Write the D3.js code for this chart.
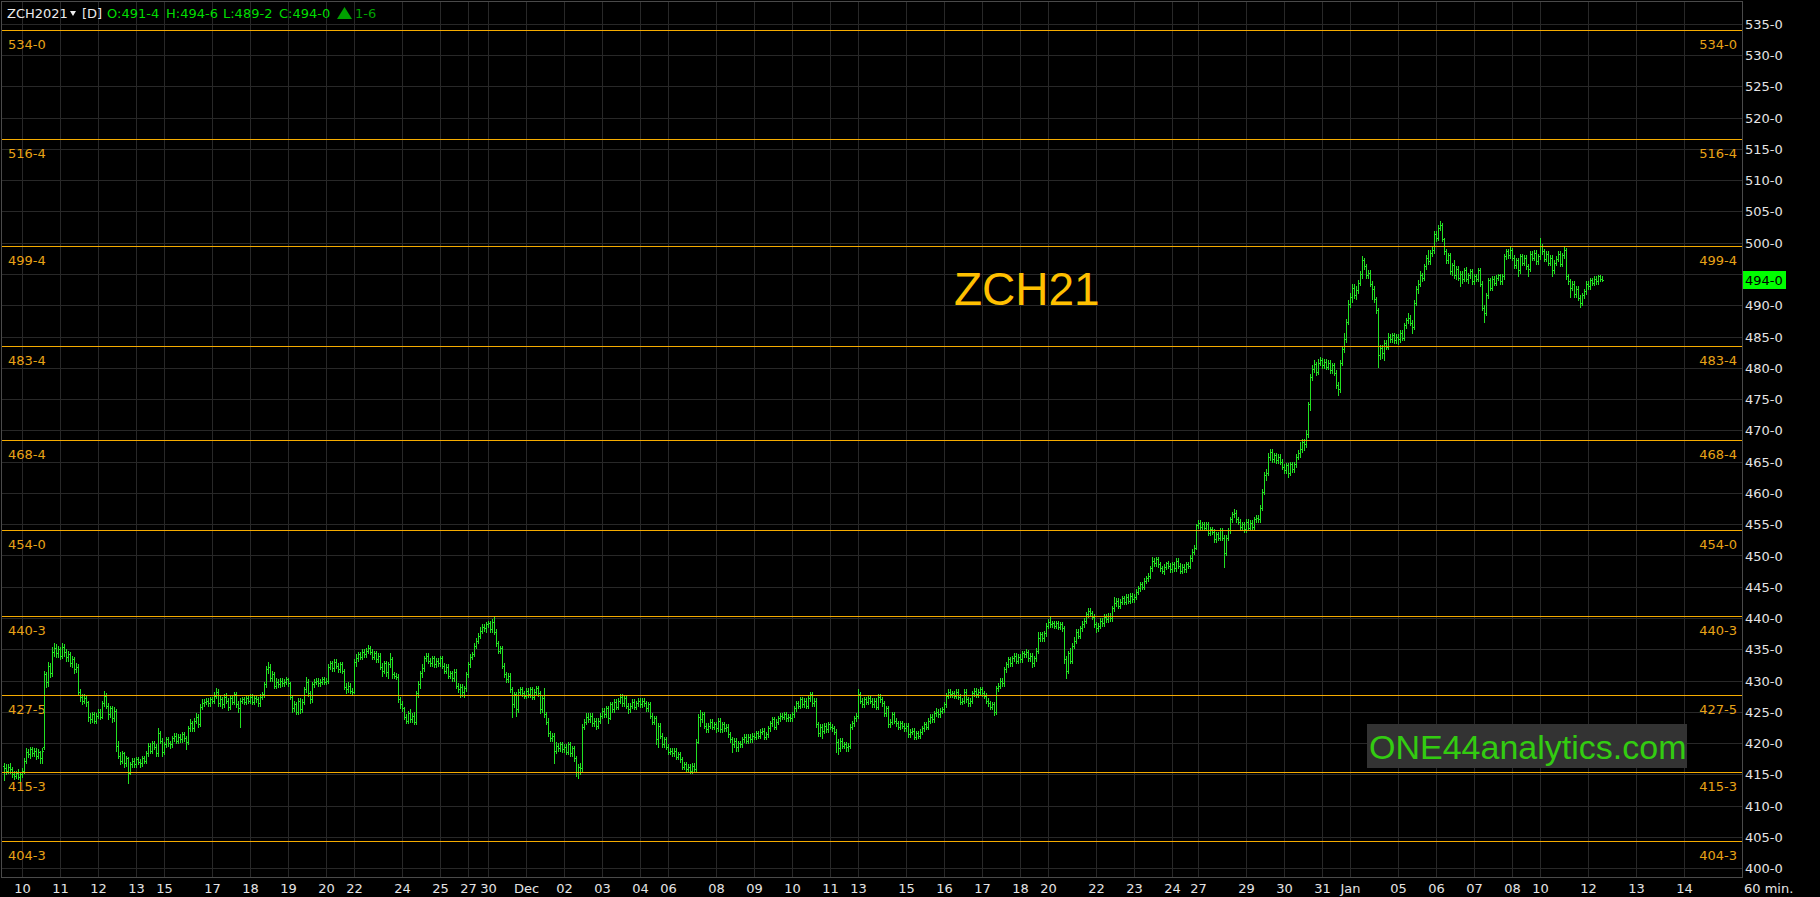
<!DOCTYPE html>
<html><head><meta charset="utf-8">
<script src="https://cdn.jsdelivr.net/npm/d3@7"></script>
<style>html,body{margin:0;padding:0;background:#000;overflow:hidden}</style>
</head><body><svg id="c" width="1820" height="897"></svg>
<script>
// ---------------- DATA ----------------
const firstIndex = -9; // bar index of first bar (index 0 = Nov 10 00:00)
const opens = [
416.4,416.0,415.6,416.2,415.8,415.0,414.8,415.2,414.6,415.0,
415.6,417.2,418.6,418.2,419.0,418.4,418.8,418.0,418.6,417.6,
419.4,431.0,429.8,432.4,431.2,434.6,435.2,434.4,435.0,434.0,
435.4,434.6,433.8,434.2,432.8,433.4,431.8,432.2,428.2,427.4,
426.8,427.2,426.6,424.2,423.8,424.6,423.6,424.4,425.0,424.2,
426.4,427.6,426.0,424.6,425.6,424.0,425.2,419.6,418.0,417.2,
418.4,416.8,417.6,415.2,416.6,417.2,416.6,417.4,417.0,416.8,
417.6,417.2,418.4,419.6,418.8,420.0,419.4,418.4,421.6,420.4,
418.6,419.8,420.6,420.0,419.8,420.8,421.2,420.4,421.0,420.6,
421.4,420.8,420.2,422.4,423.2,422.4,423.6,424.2,423.0,425.8,
426.4,426.6,426.8,426.4,427.0,426.8,427.6,428.2,426.4,427.0,
426.2,427.4,426.8,425.8,427.2,426.6,427.8,426.2,425.6,426.8,
427.0,426.6,427.2,426.8,427.4,426.6,427.2,427.0,426.4,427.4,
427.8,429.4,431.8,432.2,430.4,431.0,429.2,429.8,429.4,430.0,
429.6,429.8,430.2,429.6,427.4,425.6,426.2,425.0,426.8,425.4,
426.6,428.6,429.8,428.0,427.0,429.4,429.8,430.0,429.6,429.8,
430.2,429.8,430.0,432.2,432.8,432.0,433.0,432.4,431.8,432.6,
431.6,429.0,428.6,429.2,428.4,428.2,433.0,433.6,434.2,433.8,
434.6,434.2,434.8,435.2,434.6,433.8,434.4,433.4,434.0,432.2,
431.6,432.8,431.4,432.6,433.4,431.0,430.8,430.6,427.0,426.2,
425.6,424.2,423.6,424.8,423.8,424.4,423.4,428.0,429.4,431.2,
432.0,433.6,434.0,433.2,432.8,433.6,432.6,433.2,432.8,433.6,
432.4,431.6,432.2,430.8,431.2,430.4,431.4,429.2,428.6,429.0,
428.2,428.8,431.0,432.6,433.8,434.2,435.6,436.4,437.2,438.0,
438.6,438.4,439.0,439.2,438.2,439.4,437.8,436.0,434.8,435.2,
432.4,431.0,430.2,430.8,428.6,426.2,427.8,425.4,428.2,428.6,
428.0,427.6,428.4,427.8,428.6,427.4,428.2,428.8,428.0,425.4,
427.2,424.6,423.4,421.6,420.8,421.2,418.8,419.6,419.2,419.8,
419.0,419.4,418.6,419.8,418.4,419.2,417.6,415.4,416.2,416.0,
422.6,423.4,424.2,423.8,424.4,423.2,423.6,422.8,423.6,424.4,
425.2,424.6,425.6,424.0,426.2,425.4,426.6,425.8,426.8,427.4,
426.4,427.2,426.0,425.4,426.0,426.6,425.8,426.4,426.8,426.2,
426.8,426.4,425.6,426.2,424.4,423.4,424.0,420.6,422.8,421.2,
419.8,420.6,419.4,418.6,418.8,418.4,418.8,417.8,418.2,417.4,
416.2,416.6,415.8,416.2,415.6,416.4,415.8,420.2,424.2,423.8,
424.6,422.8,422.2,422.8,423.4,422.6,423.0,422.4,423.6,422.2,
423.0,422.4,422.6,421.4,420.6,419.8,420.4,419.4,420.0,419.8,
420.6,421.0,420.4,421.0,420.6,421.2,421.0,421.6,421.2,421.8,
422.0,421.0,421.4,422.4,423.2,423.8,422.6,423.4,424.0,424.4,
424.2,424.6,424.0,424.2,424.0,424.6,425.6,426.4,426.0,427.0,
426.2,426.8,426.0,427.2,427.8,426.4,426.8,423.0,421.6,422.6,
422.0,422.8,422.2,423.0,422.6,422.4,421.8,420.2,419.2,420.4,
419.6,419.8,419.4,419.6,422.6,423.2,424.0,424.4,427.8,426.8,
426.2,427.0,426.6,427.2,426.8,426.2,426.8,425.8,427.4,427.0,
426.4,424.8,425.6,423.0,423.4,424.6,423.6,423.2,422.6,423.2,
422.8,422.4,422.8,421.4,421.8,422.0,421.0,421.6,421.2,421.8,
422.4,423.0,422.6,423.6,424.2,423.8,424.8,425.0,424.6,425.2,
425.4,426.2,427.6,428.2,427.8,428.0,427.6,428.2,427.4,426.6,
426.8,428.2,427.0,426.4,426.8,428.0,428.4,427.8,428.2,428.6,
428.0,427.6,426.8,426.4,425.8,426.2,425.0,428.8,429.2,430.0,
429.6,431.8,432.6,433.4,432.8,433.6,434.0,433.2,433.8,433.4,
434.4,434.2,434.6,433.6,434.0,432.8,433.6,434.8,436.8,437.4,
436.8,437.6,438.8,439.4,439.0,439.2,438.8,439.2,438.6,439.0,
438.4,433.4,431.6,434.4,433.2,435.6,436.4,437.8,437.2,438.4,
439.0,439.6,440.6,441.2,440.8,440.2,439.0,438.4,438.8,439.6,
439.2,440.2,439.8,440.4,440.0,441.6,442.4,442.8,442.0,442.6,
443.2,442.6,443.4,442.8,443.6,443.0,443.4,444.2,444.8,445.4,
445.0,446.0,446.4,446.8,448.0,449.2,448.8,449.4,448.6,448.0,
447.6,448.2,448.8,448.4,447.8,448.6,448.0,449.2,448.4,447.6,
448.2,447.8,448.6,448.4,449.6,450.6,451.2,454.8,455.2,454.6,
455.0,454.4,455.0,453.6,454.2,453.8,452.6,453.4,452.8,454.0,
452.8,450.4,452.8,454.0,455.8,456.6,456.8,455.8,455.4,454.6,
455.0,454.2,455.4,454.4,455.2,454.6,455.8,456.0,455.8,457.6,
460.2,462.8,463.2,465.8,466.6,465.4,466.0,465.2,465.8,465.0,
464.2,463.6,464.4,463.2,464.6,463.8,464.6,465.8,466.4,467.0,
468.2,467.8,469.4,474.2,478.6,479.8,480.6,479.4,480.8,481.2,
480.4,481.0,480.2,480.8,479.6,480.4,479.2,477.2,476.6,480.8,
483.0,484.6,487.4,490.2,491.4,492.8,491.6,492.4,493.6,495.0,
497.2,496.2,494.8,495.2,493.4,492.6,491.0,489.2,482.0,483.2,
482.4,484.0,483.4,485.0,484.6,485.2,484.4,485.0,484.6,485.6,
484.8,486.8,487.6,488.0,487.2,486.6,490.4,492.6,493.4,494.8,
494.4,496.2,497.6,497.0,498.4,498.8,501.4,500.8,502.4,502.8,
500.6,498.6,497.2,498.0,495.4,496.4,494.8,495.8,494.4,495.0,
494.2,495.6,494.2,494.8,495.4,493.8,494.6,494.2,495.6,493.4,
489.6,488.8,491.6,494.0,492.8,494.2,493.6,494.4,494.8,493.8,
494.6,497.8,498.6,498.0,498.8,497.6,496.4,497.2,495.6,497.8,
496.8,497.6,496.2,495.8,498.2,497.6,498.4,497.0,497.8,499.4,
498.6,497.4,498.2,496.8,497.6,495.6,496.8,497.4,498.2,496.6,
498.0,498.8,494.6,493.8,492.8,493.4,491.8,492.6,491.2,490.4,
491.6,492.2,493.4,493.0,494.0,493.6,494.2,493.8,494.6,494.2];
const highs = [
416.8,416.6,416.6,416.8,416.2,415.6,415.6,415.8,415.4,416.0,
417.6,419.2,419.0,419.4,419.4,419.2,419.2,419.0,418.8,419.2,
431.6,431.4,433.0,432.8,435.4,436.0,435.8,435.6,435.4,436.0,
435.8,435.0,434.8,434.6,434.0,433.8,432.8,432.6,428.6,427.8,
427.8,427.6,426.8,424.8,425.0,425.0,424.8,425.4,425.4,426.8,
428.4,428.0,426.4,426.0,426.0,425.8,425.4,420.4,418.6,418.8,
418.6,418.0,417.8,417.0,417.6,417.6,417.8,417.8,417.4,418.0,
418.0,418.8,420.0,420.0,420.4,420.4,419.8,422.4,422.0,420.8,
420.2,421.0,421.0,420.4,421.2,421.6,421.6,421.4,421.4,421.8,
421.8,421.2,422.8,423.8,423.6,424.0,424.8,424.6,426.2,427.0,
427.0,427.2,427.2,427.4,427.4,428.2,428.8,428.6,427.6,427.4,
427.8,428.0,427.2,427.6,427.6,428.2,428.2,426.8,427.2,427.4,
427.4,427.6,427.6,427.8,427.8,427.6,427.6,427.4,427.8,428.2,
429.8,432.4,433.0,432.6,431.6,431.4,430.4,430.2,430.4,430.4,
430.2,430.6,430.4,429.8,427.6,426.8,426.6,427.2,427.2,427.0,
429.0,430.6,430.2,428.4,429.8,430.2,430.4,430.4,430.2,430.6,
430.6,430.4,432.6,433.2,433.2,433.4,433.4,432.8,433.0,433.0,
431.8,429.6,429.8,429.6,428.8,433.4,434.2,434.6,434.6,435.0,
435.0,435.2,435.7,435.6,435.0,434.8,434.8,434.4,434.4,432.8,
433.2,433.2,433.0,434.4,433.8,431.4,431.2,431.0,427.4,426.8,
425.8,424.6,425.2,425.4,424.8,425.0,428.4,430.0,431.6,432.6,
434.0,434.4,434.4,433.6,434.0,434.0,433.6,433.6,434.0,434.0,
432.8,432.6,432.6,431.6,431.6,431.8,431.8,429.6,429.4,429.4,
429.2,431.4,433.0,434.2,434.6,436.0,436.8,437.6,438.6,439.0,
439.0,439.4,439.6,439.6,439.8,440.1,438.2,436.4,435.6,435.6,
432.8,431.4,431.2,431.2,429.0,428.2,428.2,428.6,429.0,429.0,
428.4,428.8,428.8,429.0,429.0,428.6,429.2,429.2,428.4,427.6,
428.8,425.0,424.0,422.0,421.6,421.6,420.2,420.0,420.2,420.2,
419.8,419.8,420.2,420.2,419.6,419.6,418.0,416.6,416.8,423.0,
423.8,424.8,424.8,424.8,424.8,424.0,424.0,424.0,424.8,425.6,
425.6,426.0,426.0,426.6,426.6,427.0,427.0,427.2,427.8,427.8,
427.6,427.6,426.4,426.4,427.0,427.0,426.8,427.2,427.2,427.2,
427.2,426.8,426.6,426.6,424.8,424.4,424.4,423.2,423.2,421.6,
421.0,421.0,419.8,419.2,419.2,419.2,419.2,418.6,418.6,417.8,
417.0,417.0,416.6,416.6,416.8,416.8,420.6,424.6,425.3,425.0,
425.0,423.2,423.2,423.8,423.8,423.4,423.4,424.0,424.0,423.4,
423.4,423.0,423.0,421.8,421.0,420.8,420.8,420.4,420.4,421.0,
421.4,421.4,421.4,421.4,421.6,421.6,422.0,422.0,422.2,422.4,
422.4,421.8,422.8,423.6,424.2,424.2,423.8,424.4,424.8,424.8,
425.0,425.0,424.6,424.6,425.0,426.0,426.8,426.8,427.4,427.4,
427.2,427.2,427.6,428.2,428.2,427.2,427.2,423.4,423.0,423.0,
423.2,423.2,423.4,423.4,423.0,422.8,422.2,420.6,420.8,420.8,
420.2,420.2,420.0,423.0,423.6,424.4,424.8,428.6,428.2,427.2,
427.4,427.4,427.6,427.6,427.2,427.2,427.2,427.8,427.8,427.4,
426.8,426.0,426.0,423.8,425.0,425.0,424.0,423.6,423.6,423.6,
423.2,423.2,423.2,422.2,422.4,422.4,422.0,422.0,422.2,422.8,
423.4,423.4,424.0,424.6,424.6,425.2,425.6,425.4,425.6,425.8,
426.6,428.0,428.6,428.6,428.4,428.4,428.6,428.6,427.8,427.2,
428.6,428.6,427.4,427.2,428.4,428.8,428.8,428.6,429.0,429.0,
428.4,428.0,427.2,426.8,426.6,426.6,429.2,429.6,430.4,430.4,
432.2,433.0,433.8,433.8,434.0,434.4,434.4,434.2,434.2,434.8,
434.8,435.0,434.9,434.4,434.4,434.0,435.2,437.8,437.8,437.8,
438.0,439.2,439.8,440.2,439.6,439.6,439.6,439.6,439.4,439.4,
438.8,434.0,434.8,435.2,436.0,437.0,438.2,438.2,438.8,439.6,
440.0,441.0,441.6,441.6,441.2,440.6,439.4,439.2,440.0,440.0,
440.6,440.6,440.8,440.8,442.0,443.4,443.2,443.2,443.0,443.6,
443.6,443.8,443.8,444.0,444.0,443.8,444.6,445.2,445.8,445.8,
446.4,446.8,447.2,448.4,449.8,449.6,449.8,449.8,449.0,448.4,
448.6,449.0,449.2,448.8,449.0,449.0,449.6,449.6,448.8,448.6,
448.6,449.0,449.0,450.0,451.0,451.7,455.1,455.6,455.7,455.4,
455.4,455.4,455.4,454.6,454.6,454.2,453.8,453.8,454.4,454.4,
453.2,453.2,454.4,456.2,457.0,457.5,457.2,456.2,455.8,455.4,
455.4,455.8,455.8,455.6,455.6,456.2,456.5,456.4,458.0,460.6,
463.4,463.9,466.4,467.1,467.0,466.4,466.4,466.3,466.2,465.4,
464.6,464.8,464.8,465.0,465.0,465.0,466.2,466.8,468.2,468.6,
468.6,470.0,474.6,479.0,480.4,481.2,481.0,481.4,481.7,481.6,
481.4,481.4,481.2,481.2,480.8,480.8,479.6,477.8,481.2,483.4,
485.5,487.8,490.8,492.0,493.4,493.4,493.0,494.0,495.4,497.8,
497.6,496.6,495.6,495.6,493.8,493.0,491.4,489.6,483.6,483.6,
484.4,484.4,485.5,485.4,485.6,485.6,485.4,485.4,486.0,486.0,
487.2,488.0,488.7,488.4,487.6,490.8,493.0,494.0,495.4,495.2,
496.6,498.0,498.8,498.8,499.4,501.8,501.8,502.8,503.5,503.2,
500.8,499.0,498.4,498.4,496.8,497.2,496.2,496.2,495.4,495.4,
496.0,496.1,495.2,495.8,495.8,495.0,495.0,496.0,496.0,493.8,
490.0,492.0,494.4,494.4,494.6,494.6,494.8,495.0,495.0,495.0,
498.2,499.0,499.0,499.4,499.2,498.0,497.6,497.6,498.2,498.2,
498.0,498.0,496.6,498.6,498.6,498.8,498.8,498.2,500.7,499.8,
499.0,498.6,498.6,498.0,498.0,497.2,497.8,498.6,498.6,498.4,
499.4,499.2,495.0,494.2,493.8,493.8,493.0,493.0,491.6,492.0,
492.6,493.8,493.8,494.4,494.4,494.6,494.6,494.9,494.9,494.6];
const lows = [
414.1,415.0,415.2,415.2,414.6,414.2,414.4,414.2,414.0,414.6,
415.2,416.8,417.8,417.6,418.0,418.0,417.4,417.6,416.8,416.8,
419.0,429.0,429.2,430.6,430.8,434.0,433.8,433.8,433.4,433.6,
434.0,433.2,433.2,432.4,432.2,431.2,431.4,427.8,426.8,426.2,
426.4,426.0,423.6,423.2,423.4,423.2,423.2,424.0,423.8,424.0,
426.0,425.6,423.8,424.2,423.4,423.6,418.8,417.6,416.6,416.8,
416.2,416.4,413.6,415.0,416.2,416.2,416.2,416.6,416.2,416.4,
416.8,416.8,418.0,418.4,418.4,419.0,418.0,418.0,420.0,418.0,
418.2,419.4,419.6,419.2,419.4,420.4,420.0,420.0,420.2,420.2,
420.4,419.0,419.8,422.0,422.0,422.0,423.2,422.6,422.8,425.4,
426.0,426.2,426.0,426.0,426.4,426.4,427.2,426.0,426.0,425.6,
425.8,426.4,425.3,425.4,426.2,426.2,425.8,425.0,422.6,426.4,
426.2,426.2,426.4,426.4,426.2,426.2,426.6,426.0,426.0,427.0,
427.4,429.0,431.2,430.0,430.0,428.8,428.8,429.0,429.0,429.2,
429.2,429.4,429.2,427.0,425.0,425.2,424.6,424.6,424.8,425.0,
426.2,428.2,427.6,426.4,426.6,429.0,429.4,429.2,429.2,429.4,
429.4,429.4,429.6,431.8,431.6,431.6,432.0,431.4,431.4,431.2,
428.6,428.0,428.2,428.0,427.8,428.0,432.4,433.2,433.4,433.4,
433.8,433.8,434.4,434.2,433.4,433.4,433.0,433.0,431.8,430.8,
431.2,430.8,430.4,432.2,430.4,430.4,430.2,426.6,425.6,425.2,
423.8,423.2,423.2,423.4,423.4,423.0,423.0,427.4,428.8,430.6,
431.6,433.2,432.8,432.4,432.4,432.2,432.2,432.4,432.4,432.0,
431.2,431.2,430.4,430.4,430.0,430.0,428.8,428.2,427.4,427.6,
427.4,428.4,430.6,432.2,433.4,434.0,435.2,436.0,436.8,437.6,
438.0,437.8,438.6,437.8,437.8,437.4,435.6,434.4,434.4,432.0,
430.6,429.8,429.8,428.2,424.2,425.8,424.4,425.0,427.8,427.6,
427.2,427.2,427.4,427.4,427.0,427.0,427.8,427.6,424.8,425.0,
424.2,423.0,421.2,420.4,420.4,416.8,418.4,418.8,418.8,418.6,
418.6,418.2,418.2,418.0,418.0,417.2,414.8,414.5,415.0,415.6,
422.2,423.0,423.4,423.4,422.8,422.8,422.2,422.4,423.2,424.0,
424.2,424.2,423.2,423.8,425.0,425.0,425.4,425.4,426.4,426.0,
426.0,425.6,424.8,425.0,425.6,425.4,425.4,426.0,425.8,425.8,
426.0,425.2,425.2,424.0,423.0,423.0,419.8,419.4,420.8,419.4,
419.4,419.0,418.2,418.2,418.0,418.0,417.4,417.4,417.0,415.8,
415.8,415.4,415.4,415.2,415.2,415.4,415.4,420.0,422.8,423.4,
422.4,421.8,421.8,422.4,422.2,422.2,421.8,422.0,421.8,421.8,
422.0,422.0,421.0,420.2,418.6,419.4,418.8,418.8,419.4,419.4,
420.2,420.0,420.0,420.2,420.2,420.6,420.6,420.8,420.8,421.4,
420.6,420.6,421.0,422.0,422.8,422.2,422.2,423.0,423.6,423.8,
423.8,423.6,423.6,423.6,423.6,424.2,425.2,425.6,425.6,425.8,
425.8,425.6,425.6,426.8,426.0,426.0,422.6,421.2,421.2,420.8,
421.6,421.8,421.8,422.2,422.0,421.4,418.6,418.2,418.8,419.2,
419.2,418.8,418.8,419.2,422.2,422.8,423.6,424.0,426.4,425.8,
425.8,426.2,426.2,426.4,425.8,425.8,425.4,425.4,426.6,426.0,
424.4,424.4,422.6,422.6,423.0,423.2,422.8,422.2,422.2,422.4,
422.0,422.0,421.0,421.0,421.4,420.6,420.6,420.8,420.8,421.4,
422.0,422.2,422.2,423.2,423.4,423.4,424.4,424.2,424.2,424.8,
425.0,425.8,427.2,427.4,427.4,427.2,427.2,427.0,426.2,426.2,
426.4,426.6,426.0,426.0,426.4,427.6,427.4,427.4,427.8,427.6,
427.2,426.4,426.0,425.4,425.4,424.5,424.6,428.4,428.8,429.2,
429.2,431.4,432.2,432.4,432.4,433.2,432.8,432.8,433.0,433.0,
433.8,433.8,433.2,433.2,432.2,432.4,433.2,434.4,436.4,436.4,
436.4,437.2,438.4,438.6,438.6,438.4,438.4,438.2,438.2,438.0,
432.8,430.4,431.2,432.8,432.8,435.2,436.0,436.8,436.8,438.0,
438.6,439.2,440.2,440.4,439.8,438.6,437.8,438.0,438.4,438.8,
438.8,439.4,439.4,439.6,439.6,441.2,442.0,441.6,441.6,442.2,
442.2,442.2,442.4,442.4,442.6,442.6,443.0,443.8,444.4,444.6,
444.6,445.6,446.0,446.4,447.6,448.4,448.4,448.2,447.6,447.2,
447.0,447.8,448.0,447.4,447.4,447.6,447.6,448.0,447.2,447.2,
447.4,447.4,448.0,448.0,449.2,450.2,451.0,454.4,454.2,454.2,
454.0,454.0,453.2,453.2,453.4,452.2,452.2,452.4,452.4,452.4,
448.2,450.0,452.4,453.6,455.4,456.2,455.4,455.0,454.2,454.2,
453.8,453.8,454.0,454.0,454.2,454.2,455.4,455.4,455.4,457.2,
459.8,462.0,462.8,465.2,465.0,465.0,464.8,464.8,464.6,463.8,
463.2,463.2,462.6,462.8,463.4,463.4,464.2,465.4,465.8,466.6,
466.8,467.4,469.0,473.2,478.0,479.4,478.8,479.0,480.4,480.0,
480.0,479.8,479.8,479.2,479.2,478.8,476.8,475.6,476.2,480.4,
482.6,484.2,487.0,489.8,490.6,491.2,491.0,492.0,493.2,494.4,
495.8,494.4,494.4,493.0,491.0,490.6,488.8,480.2,481.4,481.6,
481.2,483.0,483.0,484.2,484.2,484.0,484.0,483.8,484.2,484.4,
484.4,486.4,487.2,486.8,485.5,486.2,490.0,492.0,493.0,493.8,
494.0,495.8,496.6,496.6,497.8,498.4,500.2,500.4,502.0,500.2,
498.2,496.8,496.8,495.0,494.8,494.4,494.2,494.0,493.0,493.6,
493.8,493.8,493.6,494.4,493.4,493.4,493.8,493.8,493.0,489.2,
487.3,488.4,491.2,492.4,492.4,493.2,493.2,494.0,493.4,493.4,
494.2,497.4,497.6,497.6,497.2,496.0,496.0,494.6,495.2,496.4,
496.4,495.8,494.6,495.4,497.2,497.2,496.6,496.6,497.4,498.2,
497.0,497.0,496.4,496.4,494.6,495.2,496.4,497.0,496.2,496.2,
497.6,494.2,493.4,491.4,492.4,491.4,491.4,490.8,489.8,490.0,
491.2,491.8,492.6,492.6,493.2,493.2,493.4,493.4,493.8,493.8];
const closes = [
416.0,415.6,416.2,415.8,415.0,414.8,415.2,414.6,415.0,415.6,
417.2,418.6,418.2,419.0,418.4,418.8,418.0,418.6,417.6,418.8,
431.0,429.8,432.4,431.2,434.6,435.2,434.4,435.0,434.0,435.4,
434.6,433.8,434.2,432.8,433.4,431.8,432.2,428.2,427.4,426.8,
427.2,426.6,424.2,423.8,424.6,423.6,424.4,425.0,424.2,426.4,
427.6,426.0,424.6,425.6,424.0,425.2,419.6,418.0,417.2,418.4,
416.8,417.6,415.2,416.6,417.2,416.6,417.4,417.0,416.8,417.6,
417.2,418.4,419.6,418.8,420.0,419.4,418.4,421.6,420.4,418.6,
419.8,420.6,420.0,419.8,420.8,421.2,420.4,421.0,420.6,421.4,
420.8,420.2,422.4,423.2,422.4,423.6,424.2,423.0,425.8,426.4,
426.6,426.8,426.4,427.0,426.8,427.6,428.2,426.4,427.0,426.2,
427.4,426.8,425.8,427.2,426.6,427.8,426.2,425.6,426.8,427.0,
426.6,427.2,426.8,427.4,426.6,427.2,427.0,426.4,427.4,427.8,
429.4,431.8,432.2,430.4,431.0,429.2,429.8,429.4,430.0,429.6,
429.8,430.2,429.6,427.4,425.6,426.2,425.0,426.8,425.4,426.6,
428.6,429.8,428.0,427.0,429.4,429.8,430.0,429.6,429.8,430.2,
429.8,430.0,432.2,432.8,432.0,433.0,432.4,431.8,432.6,431.6,
429.0,428.6,429.2,428.4,428.2,433.0,433.6,434.2,433.8,434.6,
434.2,434.8,435.2,434.6,433.8,434.4,433.4,434.0,432.2,431.6,
432.8,431.4,432.6,433.4,431.0,430.8,430.6,427.0,426.2,425.6,
424.2,423.6,424.8,423.8,424.4,423.4,428.0,429.4,431.2,432.0,
433.6,434.0,433.2,432.8,433.6,432.6,433.2,432.8,433.6,432.4,
431.6,432.2,430.8,431.2,430.4,431.4,429.2,428.6,429.0,428.2,
428.8,431.0,432.6,433.8,434.2,435.6,436.4,437.2,438.0,438.6,
438.4,439.0,439.2,438.2,439.4,437.8,436.0,434.8,435.2,432.4,
431.0,430.2,430.8,428.6,426.2,427.8,425.4,428.2,428.6,428.0,
427.6,428.4,427.8,428.6,427.4,428.2,428.8,428.0,425.4,427.2,
424.6,423.4,421.6,420.8,421.2,418.8,419.6,419.2,419.8,419.0,
419.4,418.6,419.8,418.4,419.2,417.6,415.4,416.2,416.0,422.6,
423.4,424.2,423.8,424.4,423.2,423.6,422.8,423.6,424.4,425.2,
424.6,425.6,424.0,426.2,425.4,426.6,425.8,426.8,427.4,426.4,
427.2,426.0,425.4,426.0,426.6,425.8,426.4,426.8,426.2,426.8,
426.4,425.6,426.2,424.4,423.4,424.0,420.6,422.8,421.2,419.8,
420.6,419.4,418.6,418.8,418.4,418.8,417.8,418.2,417.4,416.2,
416.6,415.8,416.2,415.6,416.4,415.8,420.2,424.2,423.8,424.6,
422.8,422.2,422.8,423.4,422.6,423.0,422.4,423.6,422.2,423.0,
422.4,422.6,421.4,420.6,419.8,420.4,419.4,420.0,419.8,420.6,
421.0,420.4,421.0,420.6,421.2,421.0,421.6,421.2,421.8,422.0,
421.0,421.4,422.4,423.2,423.8,422.6,423.4,424.0,424.4,424.2,
424.6,424.0,424.2,424.0,424.6,425.6,426.4,426.0,427.0,426.2,
426.8,426.0,427.2,427.8,426.4,426.8,423.0,421.6,422.6,422.0,
422.8,422.2,423.0,422.6,422.4,421.8,420.2,419.2,420.4,419.6,
419.8,419.4,419.6,422.6,423.2,424.0,424.4,427.8,426.8,426.2,
427.0,426.6,427.2,426.8,426.2,426.8,425.8,427.4,427.0,426.4,
424.8,425.6,423.0,423.4,424.6,423.6,423.2,422.6,423.2,422.8,
422.4,422.8,421.4,421.8,422.0,421.0,421.6,421.2,421.8,422.4,
423.0,422.6,423.6,424.2,423.8,424.8,425.0,424.6,425.2,425.4,
426.2,427.6,428.2,427.8,428.0,427.6,428.2,427.4,426.6,426.8,
428.2,427.0,426.4,426.8,428.0,428.4,427.8,428.2,428.6,428.0,
427.6,426.8,426.4,425.8,426.2,425.0,428.8,429.2,430.0,429.6,
431.8,432.6,433.4,432.8,433.6,434.0,433.2,433.8,433.4,434.4,
434.2,434.6,433.6,434.0,432.8,433.6,434.8,436.8,437.4,436.8,
437.6,438.8,439.4,439.0,439.2,438.8,439.2,438.6,439.0,438.4,
433.4,431.6,434.4,433.2,435.6,436.4,437.8,437.2,438.4,439.0,
439.6,440.6,441.2,440.8,440.2,439.0,438.4,438.8,439.6,439.2,
440.2,439.8,440.4,440.0,441.6,442.4,442.8,442.0,442.6,443.2,
442.6,443.4,442.8,443.6,443.0,443.4,444.2,444.8,445.4,445.0,
446.0,446.4,446.8,448.0,449.2,448.8,449.4,448.6,448.0,447.6,
448.2,448.8,448.4,447.8,448.6,448.0,449.2,448.4,447.6,448.2,
447.8,448.6,448.4,449.6,450.6,451.2,454.8,455.2,454.6,455.0,
454.4,455.0,453.6,454.2,453.8,452.6,453.4,452.8,454.0,452.8,
450.4,452.8,454.0,455.8,456.6,456.8,455.8,455.4,454.6,455.0,
454.2,455.4,454.4,455.2,454.6,455.8,456.0,455.8,457.6,460.2,
462.8,463.2,465.8,466.6,465.4,466.0,465.2,465.8,465.0,464.2,
463.6,464.4,463.2,464.6,463.8,464.6,465.8,466.4,467.0,468.2,
467.8,469.4,474.2,478.6,479.8,480.6,479.4,480.8,481.2,480.4,
481.0,480.2,480.8,479.6,480.4,479.2,477.2,476.6,480.8,483.0,
484.6,487.4,490.2,491.4,492.8,491.6,492.4,493.6,495.0,497.2,
496.2,494.8,495.2,493.4,492.6,491.0,489.2,482.0,483.2,482.4,
484.0,483.4,485.0,484.6,485.2,484.4,485.0,484.6,485.6,484.8,
486.8,487.6,488.0,487.2,486.6,490.4,492.6,493.4,494.8,494.4,
496.2,497.6,497.0,498.4,498.8,501.4,500.8,502.4,502.8,500.6,
498.6,497.2,498.0,495.4,496.4,494.8,495.8,494.4,495.0,494.2,
495.6,494.2,494.8,495.4,493.8,494.6,494.2,495.6,493.4,489.6,
488.8,491.6,494.0,492.8,494.2,493.6,494.4,494.8,493.8,494.6,
497.8,498.6,498.0,498.8,497.6,496.4,497.2,495.6,497.8,496.8,
497.6,496.2,495.8,498.2,497.6,498.4,497.0,497.8,499.4,498.6,
497.4,498.2,496.8,497.6,495.6,496.8,497.4,498.2,496.6,498.0,
498.8,494.6,493.8,492.8,493.4,491.8,492.6,491.2,490.4,491.6,
492.2,493.4,493.0,494.0,493.6,494.2,493.8,494.6,494.2,494.0];

const priceTicks = [400,405,410,415,420,425,430,435,440,445,450,455,460,465,470,475,480,485,490,495,500,505,510,515,520,525,530,535];
const levelValues = [534.0, 516.5, 499.5, 483.5, 468.5, 454.0, 440.375, 427.625, 415.375, 404.375];
const levelLabels = ["534-0","516-4","499-4","483-4","468-4","454-0","440-3","427-5","415-3","404-3"];
const dateLabels = ["10","11","12","13","15","17","18","19","20","22","24","25","27","30","Dec","02","03","04","06","08","09","10","11","13","15","16","17","18","20","22","23","24","27","29","30","31","Jan","05","06","07","08","10","12","13","14"];
const dateIndex = [0,19,38,57,71,95,114,133,152,166,190,209,223,233,252,271,290,309,323,347,366,385,404,418,442,461,480,499,513,537,556,575,588,612,631,650,664,688,707,726,745,759,783,807,831];
const lastPrice = 494.0, lastPriceLabel = "494-0";
const headerQuote = ["O:491-4","H:494-6","L:489-2","C:494-0"];

// ---------------- CHART ----------------
const svg = d3.select("#c");
const W = 1820, H = 897;
const plotL = 2, plotR = 1742, plotT = 2, plotB = 877;
const fontUI = "'DejaVu Sans', Verdana, sans-serif";

svg.append("rect").attr("width", W).attr("height", H).attr("fill", "#000");

const x = d3.scaleLinear().domain([-10, 860]).range([1.7, 1741.7]);
const y = d3.scaleLinear().domain([400, 535]).range([868.3, 23.74]);
const px = v => Math.round(x(v));
const py = v => Math.round(y(v));

const plot = svg.append("g");
plot.append("clipPath").attr("id", "clip").append("rect")
  .attr("x", plotL).attr("y", plotT).attr("width", plotR - plotL).attr("height", plotB - plotT);

// grid
const grid = plot.append("g").attr("clip-path", "url(#clip)")
  .attr("stroke", "#282828").attr("stroke-width", 1).attr("shape-rendering", "crispEdges");
grid.selectAll("line.h").data(priceTicks).join("line").attr("class", "h")
  .attr("x1", plotL).attr("x2", plotR)
  .attr("y1", d => py(d) + 0.5).attr("y2", d => py(d) + 0.5);
grid.selectAll("line.v").data(dateIndex).join("line").attr("class", "v")
  .attr("y1", plotT).attr("y2", plotB)
  .attr("x1", d => px(d) + 0.5).attr("x2", d => px(d) + 0.5);

// level labels (under bars)
const lvl = plot.append("g").attr("font-family", fontUI).attr("font-size", 13).attr("fill", "#e8a317");
lvl.selectAll("text.l").data(levelValues).join("text").attr("class", "l")
  .attr("x", 8).attr("y", d => py(d) + 19).text((d, i) => levelLabels[i]);
lvl.selectAll("text.r").data(levelValues).join("text").attr("class", "r")
  .attr("x", 1737).attr("text-anchor", "end").attr("y", d => py(d) + 19).text((d, i) => levelLabels[i]);

// OHLC bars
const idx = d3.range(closes.length);
plot.append("g").attr("clip-path", "url(#clip)")
  .attr("fill", "none").attr("stroke", "#22e022").attr("stroke-width", 1).attr("shape-rendering", "crispEdges")
  .selectAll("path").data(idx).join("path")
  .attr("d", i => {
    const cx = px(firstIndex + i) + 0.5;
    const hi = Math.max(highs[i], opens[i], closes[i]);
    const lo = Math.min(lows[i], opens[i], closes[i]);
    const yh = py(hi), yl = py(lo) + 1;
    const yo = py(opens[i]) + 0.5, yc = py(closes[i]) + 0.5;
    return `M${cx},${yh}V${Math.max(yl, yh + 1)}M${cx - 1.5},${yo}H${cx}M${cx},${yc}H${cx + 1.5}`;
  });

// level lines
plot.append("g").attr("stroke", "#f5ab00").attr("stroke-width", 1).attr("shape-rendering", "crispEdges")
  .selectAll("line").data(levelValues).join("line")
  .attr("x1", plotL).attr("x2", plotR)
  .attr("y1", d => py(d) + 0.5).attr("y2", d => py(d) + 0.5);

// frame
svg.append("rect").attr("x", 1.5).attr("y", 1.5).attr("width", plotR - 1.5).attr("height", plotB - 1.5)
  .attr("fill", "none").attr("stroke", "#4a4a4a").attr("shape-rendering", "crispEdges");

// right axis labels
const ax = svg.append("g").attr("font-family", fontUI).attr("font-size", 13).attr("fill", "#e4e4e4");
ax.selectAll("text").data(priceTicks.filter(v => Math.abs(y(v) - y(lastPrice)) > 10)).join("text")
  .attr("x", 1745).attr("y", d => y(d) + 5).text(d => d + "-0");
// last price marker
svg.append("rect").attr("x", 1743).attr("y", Math.round(y(lastPrice)) - 9).attr("width", 43).attr("height", 18).attr("fill", "#00ff00");
svg.append("text").attr("x", 1745).attr("y", y(lastPrice) + 5).attr("font-family", fontUI).attr("font-size", 13)
  .attr("fill", "#000").text(lastPriceLabel);

// bottom date labels
svg.append("g").attr("font-family", fontUI).attr("font-size", 13).attr("fill", "#e4e4e4")
  .selectAll("text").data(dateIndex).join("text")
  .attr("x", d => px(d) + 0.5).attr("y", 893).attr("text-anchor", "middle").text((d, i) => dateLabels[i]);
svg.append("text").attr("x", 1744).attr("y", 893).attr("font-family", fontUI).attr("font-size", 13)
  .attr("fill", "#e4e4e4").text("60 min.");

// header
const hd = svg.append("g").attr("font-family", fontUI).attr("font-size", 13);
hd.append("text").attr("x", 7).attr("y", 18).attr("fill", "#ececec").text("ZCH2021");
hd.append("path").attr("d", "M70,11L76,11L73,16Z").attr("fill", "#ececec");
hd.append("text").attr("x", 82).attr("y", 18).attr("fill", "#ececec").text("[D]");
const hx = [107, 166, 223, 279];
hd.selectAll("text.q").data(headerQuote).join("text").attr("class", "q")
  .attr("x", (d, i) => hx[i]).attr("y", 18).attr("fill", "#00dd00").text(d => d);
hd.append("path").attr("d", "M337,19L352,19L344.5,7Z").attr("fill", "#00a000");
hd.append("text").attr("x", 355).attr("y", 18).attr("fill", "#00a000").text("1-6");

// title
svg.append("text").attr("x", 954).attr("y", 305).attr("font-family", "'Liberation Sans', Arial, sans-serif")
  .attr("font-size", 46).attr("fill", "#ffc000").text("ZCH21");

// watermark
svg.append("rect").attr("x", 1367).attr("y", 724).attr("width", 320).attr("height", 44).attr("fill", "#333333");
svg.append("text").attr("x", 1369).attr("y", 759).attr("font-family", "'Liberation Sans', Arial, sans-serif")
  .attr("font-size", 34).attr("fill", "#33cc11").text("ONE44analytics.com");
</script>
</body></html>
